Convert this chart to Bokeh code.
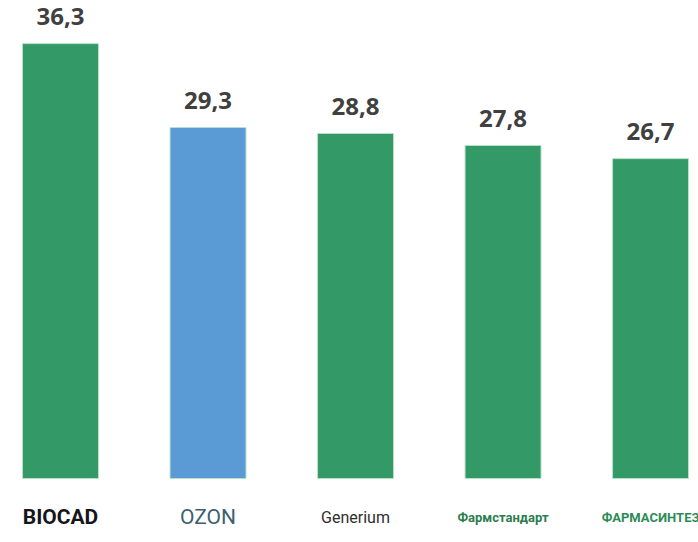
from bokeh.plotting import figure
from bokeh.models import ColumnDataSource, Range1d
from bokeh.core.properties import value
from bokeh.embed import file_html
from bokeh.resources import INLINE

companies = ["BIOCAD", "OZON", "Generium", "Фармстандарт", "ФАРМАСИНТЕЗ"]
values = [36.3, 29.3, 28.8, 27.8, 26.7]
labels = ["36,3", "29,3", "28,8", "27,8", "26,7"]
colors = ["#339966", "#5B9BD5", "#339966", "#339966", "#339966"]
name_colors = ["#16161a", "#3d5f70", "#2f2f2f", "#2e7d4f", "#2e8b57"]
name_sizes = ["21px", "21px", "16px", "13px", "13px"]
name_styles = ["bold", "normal", "normal", "bold", "bold"]

x = list(range(len(companies)))
src = ColumnDataSource(dict(x=x, top=values, lab=labels, color=colors,
                            name=companies, ncol=name_colors, nsize=name_sizes,
                            nstyle=name_styles, ny=[-3.25] * len(x)))

p = figure(width=698, height=542, output_backend="svg", toolbar_location=None,
           x_range=Range1d(-0.4068, 4.325), y_range=Range1d(-5.34, 39.9),
           min_border=0, outline_line_color=None)
p.axis.visible = False
p.grid.visible = False

p.vbar(x="x", top="top", bottom=0, width=0.515, source=src,
       fill_color="color", line_color="#b9e0c8", line_width=1)
p.text(x="x", y="top", text="lab", source=src, text_align="center",
       text_baseline="alphabetic", y_offset=-27, text_line_height=1.0,
       text_font=value("Open Sans"), text_font_style="bold",
       text_font_size="24px", text_color="#404040")
p.text(x="x", y="ny", text="name", source=src, text_align="center",
       text_baseline="middle", text_font=value("Roboto"),
       text_font_style="nstyle", text_font_size="nsize", text_color="ncol")

open("out.html", "w").write(file_html(p, INLINE))
